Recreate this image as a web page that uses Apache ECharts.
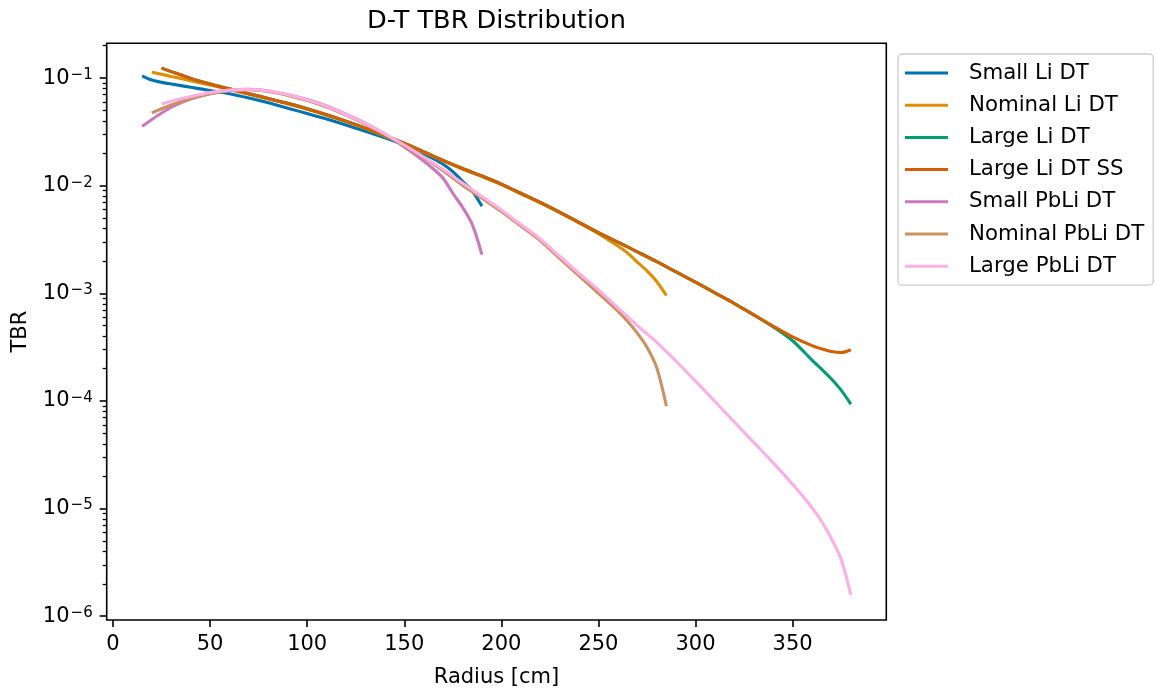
<!DOCTYPE html>
<html><head><meta charset="utf-8">
<script src="https://cdn.jsdelivr.net/npm/echarts@6/dist/echarts.min.js"></script>
<style>html,body{margin:0;padding:0;background:#fff}#c{width:1156px;height:693px}</style>
</head><body><div id="c"></div>
<script>
// Radii [cm]
const rSmall = [15,20,25,30,40,50,60,70,80,90,100,110,120,130,140,150,160,165,170,175,180,185,190];
const rNominal = [20,25,30,40,50,60,70,80,90,100,110,120,130,140,150,160,170,180,190,200,210,220,230,240,250,260,265,270,275,280,285];
const rLarge = [25,30,40,50,60,70,80,90,100,110,120,130,140,150,160,170,180,190,200,210,220,230,240,250,260,270,280,290,300,310,320,330,340,350,360,365,370,375,380];

// TBR values
const smallLiDT = [0.105,0.0959,0.0912,0.0881,0.0822,0.0767,0.0716,0.0653,0.0589,0.0525,0.0468,0.0417,0.0367,0.0320,0.0279,0.0240,0.0198,0.0178,0.0158,0.0135,0.0110,0.00890,0.00646];
const nominalLiDT = [0.1135,0.1084,0.1035,0.0944,0.0861,0.0780,0.0708,0.0638,0.0575,0.0513,0.0452,0.0394,0.0339,0.0288,0.0245,0.0204,0.0170,0.0143,0.01216,0.01023,0.00841,0.00692,0.00562,0.00452,0.00359,0.00275,0.00237,0.00195,0.00162,0.00129,0.000955];
const largeLiDT = [0.1236,0.1148,0.0993,0.0881,0.0794,0.0716,0.0646,0.0582,0.0519,0.0457,0.0398,0.0343,0.0292,0.0248,0.0207,0.0172,0.01445,0.0123,0.01035,0.00851,0.0070,0.00569,0.00457,0.00367,0.00299,0.00243,0.00197,0.00158,0.00127,0.00101,0.000804,0.000631,0.000488,0.000363,0.000240,0.000197,0.000160,0.000126,0.0000933];
const largeLiDTSS = [0.1236,0.1148,0.0993,0.0881,0.0794,0.0716,0.0646,0.0582,0.0519,0.0457,0.0398,0.0343,0.0292,0.0248,0.0207,0.0172,0.01445,0.0123,0.01035,0.00851,0.0070,0.00569,0.00457,0.00367,0.00299,0.00243,0.00197,0.00158,0.00127,0.00101,0.000804,0.000631,0.000495,0.000394,0.000327,0.000305,0.000288,0.000282,0.000299];
const smallPbLiDT = [0.0357,0.0412,0.0473,0.0537,0.0638,0.0716,0.0767,0.0785,0.0759,0.0700,0.0631,0.0550,0.0462,0.0380,0.0302,0.0229,0.0170,0.0143,0.01175,0.00851,0.00631,0.00437,0.00229];
const nominalPbLiDT = [0.0475,0.0519,0.0562,0.0646,0.0716,0.0764,0.0780,0.0750,0.0689,0.0617,0.0537,0.0452,0.0372,0.0299,0.0234,0.0182,0.0138,0.01012,0.00767,0.00575,0.00422,0.00309,0.00211,0.00145,0.00100,0.000684,0.000550,0.000427,0.000316,0.000204,0.0000897];
const largePbLiDT = [0.0575,0.0610,0.0673,0.0733,0.0773,0.0785,0.0759,0.0700,0.0627,0.0547,0.0459,0.0378,0.0303,0.0239,0.0185,0.0142,0.01059,0.00794,0.00596,0.00437,0.00320,0.00221,0.00153,0.00108,0.000733,0.000501,0.000351,0.000234,0.000153,0.0000989,0.0000638,0.0000412,0.0000266,0.0000168,0.0000102,0.00000759,0.00000525,0.00000339,0.00000158];

const seriesNames = ['Small Li DT','Nominal Li DT','Large Li DT','Large Li DT SS','Small PbLi DT','Nominal PbLi DT','Large PbLi DT'];
const xTicks = [0,50,100,150,200,250,300,350];
const yDecades = [-6,-5,-4,-3,-2,-1];

const colors = ['#0173b2','#de8f05','#029e73','#d55e00','#cc78bc','#ca9161','#fbafe4'];
const FONT = 'DejaVu Sans';
const X_MIN = -3.25, X_MAX = 398.25;
const Y_MIN = -6.035, Y_MAX = -0.677; // log10 extent

const seriesDefs = [
  [rSmall, smallLiDT], [rNominal, nominalLiDT], [rLarge, largeLiDT], [rLarge, largeLiDTSS],
  [rSmall, smallPbLiDT], [rNominal, nominalPbLiDT], [rLarge, largePbLiDT]
];

const yMinor = [];
for (let n = -7; n <= 0; n++) {
  for (let k = 2; k <= 9; k++) {
    const v = Math.log10(k) + n;
    if (v >= Y_MIN && v <= Y_MAX) yMinor.push(v);
  }
}

const chart = echarts.init(document.getElementById('c'), null, {renderer: 'canvas'});
chart.setOption({
  animation: false,
  color: colors,
  textStyle: {fontFamily: FONT},
  title: {
    text: 'D-T TBR Distribution',
    left: 496.5, top: 8, textAlign: 'center', padding: 0,
    textStyle: {fontFamily: FONT, fontSize: 25.6, fontWeight: 'normal', color: '#000'}
  },
  grid: {left: 106.7, right: 269.7, top: 43.3, bottom: 69.7, show: true, borderColor: '#000', borderWidth: 1.6, backgroundColor: 'transparent'},
  legend: {
    orient: 'vertical', left: 898, top: 54,
    icon: 'rect', itemWidth: 43, itemHeight: 3, itemGap: 10.2,
    padding: [8, 9, 8, 7],
    backgroundColor: 'rgba(255,255,255,0.8)', borderColor: '#cccccc', borderWidth: 1.3, borderRadius: 4,
    textStyle: {fontFamily: FONT, fontSize: 21.3, color: '#000', lineHeight: 22, padding: [0, 0, 0, 16]},
    data: seriesNames
  },
  xAxis: {
    type: 'value', min: X_MIN, max: X_MAX,
    axisLine: {show: false, onZero: false},
    splitLine: {show: false},
    axisTick: {show: true, customValues: xTicks, length: 7, lineStyle: {color: '#000', width: 1.6}},
    axisLabel: {customValues: xTicks, margin: 14, fontFamily: FONT, fontSize: 21, color: '#000'},
    name: 'Radius [cm]', nameLocation: 'middle', nameGap: 47,
    nameTextStyle: {fontFamily: FONT, fontSize: 21, color: '#000'}
  },
  yAxis: [{
    type: 'value', min: Y_MIN, max: Y_MAX, position: 'left',
    axisLine: {show: false, onZero: false},
    splitLine: {show: false},
    axisTick: {show: true, customValues: yDecades, length: 7, lineStyle: {color: '#000', width: 1.6}},
    axisLabel: {
      customValues: yDecades, margin: 14,
      formatter: v => '{b|10}{s|\u2212' + Math.round(-v) + '}',
      rich: {
        b: {fontFamily: FONT, fontSize: 21, color: '#000', lineHeight: 21, verticalAlign: 'bottom'},
        s: {fontFamily: FONT, fontSize: 15, color: '#000', lineHeight: 15, verticalAlign: 'top', padding: [0, 0, 11, 1]}
      }
    },
    name: 'TBR', nameLocation: 'middle', nameGap: 76, nameRotate: 90,
    nameTextStyle: {fontFamily: FONT, fontSize: 21, color: '#000'}
  }, {
    type: 'value', min: Y_MIN, max: Y_MAX, position: 'left', offset: 0,
    axisLine: {show: false, onZero: false},
    splitLine: {show: false},
    axisLabel: {show: false},
    axisTick: {show: true, customValues: yMinor, length: 4, lineStyle: {color: '#000', width: 1.3}}
  }],
  series: seriesDefs.map((d, i) => ({
    name: seriesNames[i], type: 'line', yAxisIndex: 0,
    showSymbol: false, symbol: 'none', smooth: 0.3,
    lineStyle: {width: 3.1, color: colors[i]}, itemStyle: {color: colors[i]},
    data: d[0].map((x, j) => [x, Math.log10(d[1][j])])
  }))
});
</script>
</body></html>
